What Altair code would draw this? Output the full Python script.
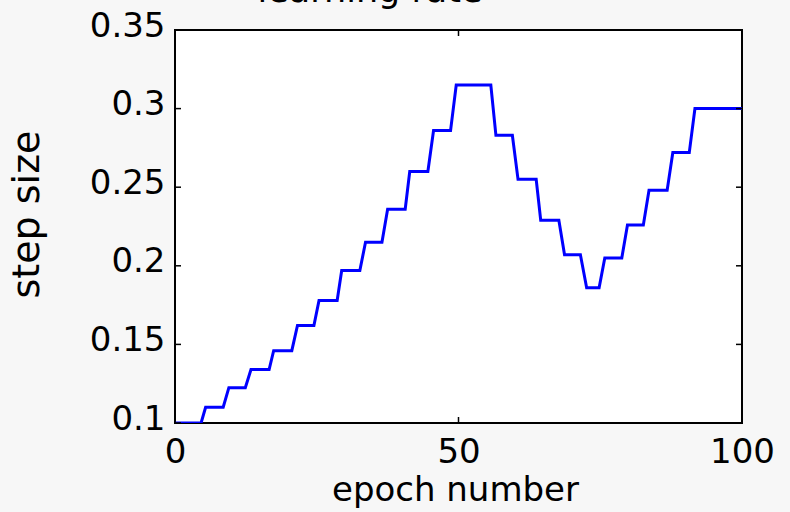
import altair as alt
import pandas as pd

# flat segments of the step-size curve (epoch where each level starts / ends)
flat_start = [0, 5.4, 9.5, 13.4, 17.4, 21.6, 25.4, 29.4, 33.6, 37.5, 41.4, 45.6, 49.6,
              56.6, 60.5, 64.5, 68.7, 72.6, 75.8, 79.8, 83.6, 87.8, 91.7]
flat_end = [4.6, 8.5, 12.4, 16.6, 20.6, 24.5, 28.6, 32.6, 36.5, 40.6, 44.6, 48.6, 55.7,
            59.5, 63.7, 67.7, 71.5, 74.8, 78.8, 82.6, 86.8, 90.7, 100]
levels = [0.100, 0.110, 0.1225, 0.134, 0.146, 0.162, 0.178, 0.197, 0.215, 0.236, 0.260, 0.286,
          0.315, 0.283, 0.255, 0.229, 0.207, 0.186, 0.205, 0.226, 0.248, 0.272, 0.300]

x_ticks = [0, 50, 100]
y_ticks = [0.1, 0.15, 0.2, 0.25, 0.3, 0.35]
title_text = "learning rate"
x_title = "epoch number"
y_title = "step size"

rows = []
for s, e, v in zip(flat_start, flat_end, levels):
    rows.append({"epoch": s, "step": v})
    rows.append({"epoch": e, "step": v})
df = pd.DataFrame(rows)
df["i"] = range(len(df))

W, H = 567, 393
FONT = "DejaVu Sans"

xscale = alt.Scale(domain=[0, 100], nice=False, zero=False)
yscale = alt.Scale(domain=[0.1, 0.35], nice=False, zero=False)

x_axis = alt.Axis(values=x_ticks, format="d", title=x_title, labelPadding=12, labelFlush=False,
                  titleX=280, titleY=77, titleBaseline="alphabetic", titleFontSize=34)
y_axis = alt.Axis(values=y_ticks, format=".2~f", title=y_title, labelPadding=10, labelFlush=False,
                  labelOffset=-4, titleX=-137, titleY=184, titleAngle=270,
                  titleBaseline="alphabetic", titleAlign="center", titleFontSize=38)

line = alt.Chart(df).mark_line(color="#0000ff", strokeWidth=3, clip=True).encode(
    x=alt.X("epoch:Q", scale=xscale, axis=x_axis),
    y=alt.Y("step:Q", scale=yscale, axis=y_axis),
    order="i:Q",
)

yt = pd.DataFrame({"step": y_ticks})
xt = pd.DataFrame({"epoch": x_ticks})

left_ticks = alt.Chart(yt).mark_rule(color="black", strokeWidth=1.5).encode(
    y=alt.Y("step:Q", scale=yscale, axis=y_axis), x=alt.value(0), x2=alt.value(6))
right_ticks = alt.Chart(yt).mark_rule(color="black", strokeWidth=1.5).encode(
    y=alt.Y("step:Q", scale=yscale, axis=y_axis), x=alt.value(W - 6), x2=alt.value(W))
bottom_ticks = alt.Chart(xt).mark_rule(color="black", strokeWidth=1.5).encode(
    x=alt.X("epoch:Q", scale=xscale, axis=x_axis), y=alt.value(H - 6), y2=alt.value(H))
top_ticks = alt.Chart(xt).mark_rule(color="black", strokeWidth=1.5).encode(
    x=alt.X("epoch:Q", scale=xscale, axis=x_axis), y=alt.value(0), y2=alt.value(6))

title = alt.Chart(pd.DataFrame({"t": [title_text]})).mark_text(
    font=FONT, fontSize=35, color="black", align="center", baseline="alphabetic"
).encode(text="t:N", x=alt.value(195), y=alt.value(-28))

chart = alt.layer(line, left_ticks, right_ticks, bottom_ticks, top_ticks, title).properties(
    width=W, height=H,
    autosize=alt.AutoSizeParams(type="none"),
    padding={"left": 175, "top": 30, "right": 48, "bottom": 89},
    background="#f7f7f7",
).configure_view(
    stroke="black", strokeWidth=2, fill="white"
).configure_axis(
    domain=False, ticks=False, grid=False,
    labelFont=FONT, labelFontSize=34, labelColor="black",
    titleFont=FONT, titleFontWeight="normal", titleColor="black",
)

chart.save("out.html", embed_options={"renderer": "svg", "actions": False})
